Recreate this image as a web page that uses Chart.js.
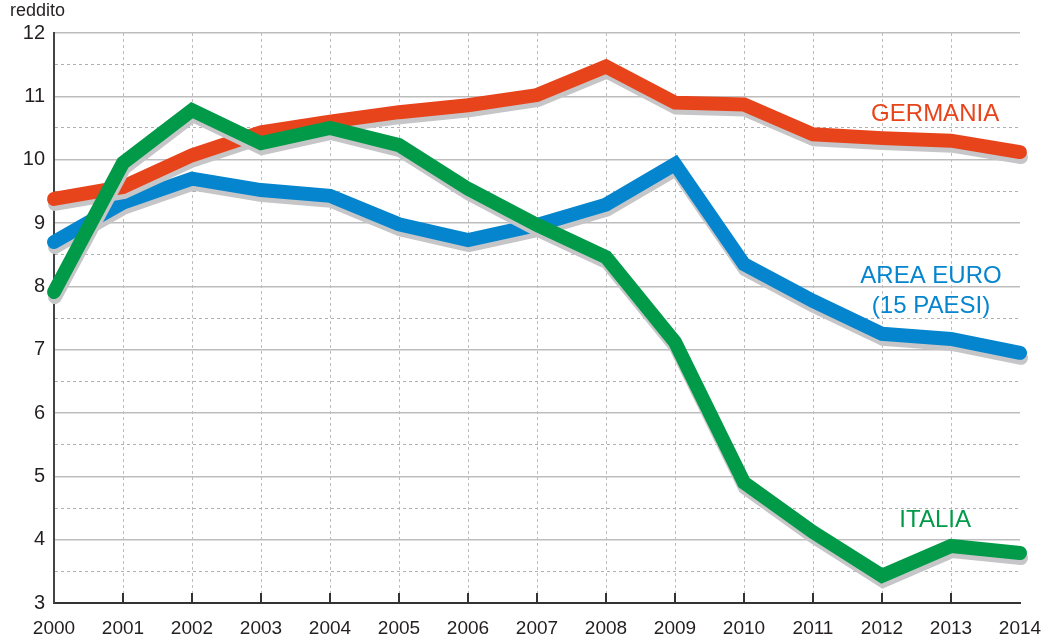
<!DOCTYPE html>
<html>
<head>
<meta charset="utf-8">
<script src="https://cdn.jsdelivr.net/npm/chart.js@4"></script>
<style>
  html, body { margin: 0; padding: 0; background: #fff; }
  #wrap { width: 1056px; height: 644px; position: relative; }
</style>
</head>
<body>
<div id="wrap"><canvas id="c"></canvas></div>
<script>
const years = ["2000","2001","2002","2003","2004","2005","2006","2007","2008","2009","2010","2011","2012","2013","2014"];
const germania = [9.38, 9.57, 10.07, 10.43, 10.6, 10.75, 10.86, 11.02, 11.47, 10.9, 10.87, 10.4, 10.34, 10.3, 10.12];
const areaEuro = [8.7, 9.32, 9.7, 9.52, 9.43, 8.98, 8.73, 8.97, 9.29, 9.93, 8.35, 7.77, 7.25, 7.17, 6.95];
const italia   = [7.91, 9.95, 10.78, 10.26, 10.5, 10.23, 9.54, 8.97, 8.46, 7.12, 4.9, 4.12, 3.43, 3.9, 3.79];
const yMin = 3, yMax = 12;
const yAxisTitle = "reddito";

const RED = "#E8441B", BLUE = "#0585CE", GREEN = "#009A48";
const TEXT = "#231F20";
const FONT = "'Liberation Sans', Arial, Helvetica, sans-serif";

// series labels placed in data space (x = fractional index, y = value at baseline)
const seriesLabels = [
  { text: "GERMANIA", color: RED, x: 12.77, y: 10.61 },
  { text: "AREA EURO", color: BLUE, x: 12.71, y: 8.05 },
  { text: "(15 PAESI)", color: BLUE, x: 12.71, y: 7.58 },
  { text: "ITALIA", color: GREEN, x: 12.77, y: 4.2 }
];

const shadowPlugin = {
  id: "shadow",
  beforeDatasetDraw(chart) {
    const ctx = chart.ctx;
    const dpr = chart.currentDevicePixelRatio || 1;
    ctx.save();
    ctx.shadowColor = "#C6C6C8";
    ctx.shadowOffsetX = 1 * dpr;
    ctx.shadowOffsetY = 5 * dpr;
    ctx.shadowBlur = 0;
  },
  afterDatasetDraw(chart) {
    chart.ctx.restore();
  }
};

const decorPlugin = {
  id: "decor",
  afterDraw(chart) {
    const ctx = chart.ctx;
    const xs = chart.scales.x, ys = chart.scales.y;
    // small inward ticks on the x axis
    ctx.save();
    ctx.strokeStyle = "#333";
    ctx.lineWidth = 2;
    for (let i = 1; i < years.length - 1; i++) {
      const px = xs.getPixelForValue(i);
      ctx.beginPath();
      ctx.moveTo(px, ys.bottom);
      ctx.lineTo(px, ys.bottom - 10);
      ctx.stroke();
    }
    ctx.restore();
    // axis title
    ctx.save();
    ctx.fillStyle = TEXT;
    ctx.font = "18px " + FONT;
    ctx.textBaseline = "alphabetic";
    ctx.textAlign = "left";
    ctx.fillText(yAxisTitle, 10, 16);
    ctx.restore();
    // series labels
    ctx.save();
    ctx.font = "24px " + FONT;
    ctx.textAlign = "center";
    ctx.textBaseline = "alphabetic";
    seriesLabels.forEach(l => {
      ctx.fillStyle = l.color;
      ctx.fillText(l.text, xs.getPixelForValue(l.x), ys.getPixelForValue(l.y));
    });
    ctx.restore();
  }
};

function ds(label, data, color) {
  return {
    label, data,
    borderColor: color,
    backgroundColor: color,
    borderWidth: 14,
    borderCapStyle: "round",
    borderJoinStyle: "miter",
    pointRadius: 0,
    pointHoverRadius: 0,
    tension: 0,
    fill: false,
    clip: false
  };
}

new Chart(document.getElementById("c"), {
  type: "line",
  data: {
    labels: years,
    datasets: [
      ds("ITALIA", italia, GREEN),
      ds("GERMANIA", germania, RED),
      ds("AREA EURO (15 PAESI)", areaEuro, BLUE)
    ]
  },
  options: {
    responsive: true,
    maintainAspectRatio: false,
    animation: false,
    events: [],
    layout: { padding: { left: 0, right: 36, top: 33, bottom: 0 } },
    plugins: { legend: { display: false }, tooltip: { enabled: false } },
    scales: {
      x: {
        type: "category",
        offset: false,
        afterFit(s) { s.height = 41; },
        grid: {
          drawTicks: false,
          color: (c) => (c.index === 0 || c.index === years.length - 1) ? "rgba(0,0,0,0)" : "#BDBDBD",
          lineWidth: 1
        },
        border: { display: true, color: "#333", width: 2, dash: (c) => c.tick ? [3, 3] : [] },
        ticks: {
          color: TEXT,
          font: { family: FONT, size: 19 },
          padding: 14,
          maxRotation: 0,
          autoSkip: false
        }
      },
      y: {
        min: yMin, max: yMax,
        afterFit(s) { s.width = 54; },
        grid: {
          drawTicks: false,
          color: (c) => (c.tick && c.tick.value % 1 !== 0) ? "#B0B0B0" : "#BDBDBD",
          lineWidth: (c) => (c.tick && c.tick.value % 1 !== 0) ? 1 : 1.5
        },
        border: {
          display: true, color: "#444", width: 2,
          dash: (c) => (c.tick && c.tick.value % 1 !== 0) ? [3, 3] : []
        },
        ticks: {
          stepSize: 0.5,
          color: TEXT,
          font: { family: FONT, size: 20 },
          padding: 9,
          callback: (v) => (v % 1 === 0 ? String(v) : "")
        }
      }
    }
  },
  plugins: [shadowPlugin, decorPlugin]
});
</script>
</body>
</html>
